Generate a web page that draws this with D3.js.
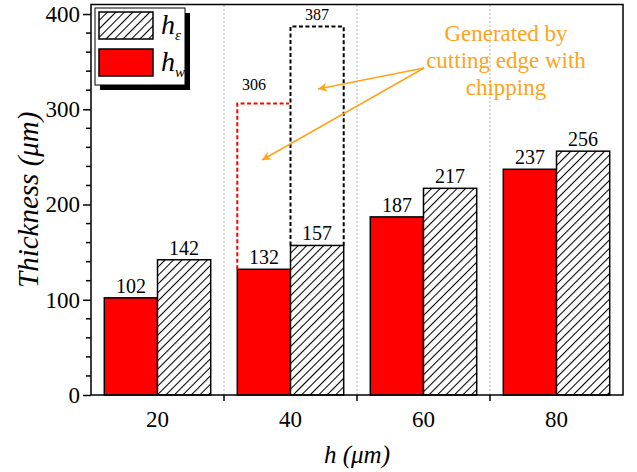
<!DOCTYPE html>
<html><head><meta charset="utf-8">
<script src="https://cdn.jsdelivr.net/npm/d3@7/dist/d3.min.js"></script>
</head><body style="margin:0;background:#fff">
<svg id="c" width="637" height="472" style="display:block;font-family:'Liberation Serif'" font-family="Liberation Serif"></svg>
<script>
const categories = ["20", "40", "60", "80"];
const hw = [102, 132, 187, 237];
const he = [142, 157, 217, 256];
const chipCategory = "40";
const hwChip = 306;
const heChip = 387;
const yTicks = [0, 100, 200, 300, 400];
const yMinor = d3.range(0, 401, 20);
const annotationLines = ["Generated by", "cutting edge with", "chipping"];

const W = 637, H = 472;
const m = {l: 91, r: 14, t: 4.5, b: 77};
const svg = d3.select("#c");
const orange = "#FFA31A";
const FF = '"Liberation Serif"';
function T(sel) { return sel.append("text").style("font-family", FF); }

const x = d3.scaleBand().domain(categories).range([m.l, W - m.r]).paddingInner(0).paddingOuter(0);
const y = d3.scaleLinear().domain([0, 410]).range([H - m.b, m.t]);
const bw = x.bandwidth() * 0.4;
const cx = c => x(c) + x.bandwidth() / 2;

const defs = svg.append("defs");
const pat = defs.append("pattern").attr("id", "hatch").attr("patternUnits", "userSpaceOnUse")
  .attr("width", 6).attr("height", 6).attr("patternTransform", "rotate(45)");
pat.append("rect").attr("width", 6).attr("height", 6).attr("fill", "#fff");
pat.append("line").attr("x1", 0.5).attr("y1", 0).attr("x2", 0.5).attr("y2", 6)
  .attr("stroke", "#000").attr("stroke-width", 1.1);
defs.append("marker").attr("id", "arr").attr("viewBox", "0 0 10 10").attr("refX", 10).attr("refY", 5)
  .attr("markerWidth", 13).attr("markerHeight", 9).attr("markerUnits", "userSpaceOnUse").attr("orient", "auto")
  .append("path").attr("d", "M0,0 L10,5 L0,10 L3,5 Z").attr("fill", orange);

// grid lines at band separators
const seps = categories.slice(1).map(c => x(c));
svg.append("g").selectAll("line").data(seps).join("line")
  .attr("x1", d => d).attr("x2", d => d).attr("y1", y(0)).attr("y2", m.t)
  .attr("stroke", "#b0b0b0").attr("stroke-width", 1).attr("stroke-dasharray", "2,2");

// bars
svg.append("g").selectAll("rect").data(categories).join("rect")
  .attr("x", c => cx(c) - bw).attr("width", bw)
  .attr("y", (c, i) => y(hw[i])).attr("height", (c, i) => y(0) - y(hw[i]))
  .attr("fill", "#ff0000").attr("stroke", "#000").attr("stroke-width", 1.5);
svg.append("g").selectAll("rect").data(categories).join("rect")
  .attr("x", c => cx(c)).attr("width", bw)
  .attr("y", (c, i) => y(he[i])).attr("height", (c, i) => y(0) - y(he[i]))
  .attr("fill", "url(#hatch)").attr("stroke", "#000").attr("stroke-width", 1.5);

// value labels
const lab = svg.append("g").attr("font-size", 20).attr("text-anchor", "middle");
categories.forEach((c, i) => {
  T(lab).attr("x", cx(c) - bw / 2).attr("y", y(hw[i]) - 5).text(hw[i]);
  T(lab).attr("x", cx(c) + bw / 2).attr("y", y(he[i]) - 5).text(he[i]);
});

// chipping dashed outlines
const ci = categories.indexOf(chipCategory);
const c0 = cx(chipCategory);
svg.append("path")
  .attr("d", `M${c0 - bw},${y(hw[ci])} L${c0 - bw},${y(hwChip)} L${c0 - 1.5},${y(hwChip)}`)
  .attr("fill", "none").attr("stroke", "#ff0000").attr("stroke-width", 2).attr("stroke-dasharray", "4,2.5");
svg.append("path")
  .attr("d", `M${c0},${y(he[ci])} L${c0},${y(heChip)} L${c0 + bw},${y(heChip)} L${c0 + bw},${y(he[ci])}`)
  .attr("fill", "none").attr("stroke", "#000").attr("stroke-width", 2).attr("stroke-dasharray", "4,2.5");
const lab2 = svg.append("g").attr("font-size", 16).attr("text-anchor", "middle");
T(lab2).attr("x", c0 - bw / 2 - 10).attr("y", y(hwChip) - 14).text(hwChip);
T(lab2).attr("x", c0 + bw / 2).attr("y", y(heChip) - 6).text(heChip);

// frame
svg.append("rect").attr("x", m.l).attr("y", m.t).attr("width", W - m.r - m.l).attr("height", y(0) - m.t)
  .attr("fill", "none").attr("stroke", "#000").attr("stroke-width", 1.5);

// y axis (d3 axis for ticks; labels drawn as text)
const ya = svg.append("g").attr("transform", `translate(${m.l},0)`)
  .call(d3.axisLeft(y).tickValues(yTicks).tickSize(8).tickFormat(""));
ya.attr("font-family", null).attr("font-size", null);
ya.select(".domain").remove();
ya.selectAll("line").attr("stroke-width", 1.5);
const yl = svg.append("g").attr("font-size", 23).attr("text-anchor", "end");
yTicks.forEach(v => T(yl).attr("x", m.l - 11).attr("y", y(v)).attr("dy", "0.34em").text(v));
svg.append("g").selectAll("line").data(yMinor.filter(v => !yTicks.includes(v))).join("line")
  .attr("x1", m.l - 5).attr("x2", m.l).attr("y1", d => y(d)).attr("y2", d => y(d))
  .attr("stroke", "#000").attr("stroke-width", 1.5);

// x axis
svg.append("g").selectAll("line").data(seps).join("line")
  .attr("x1", d => d).attr("x2", d => d).attr("y1", y(0)).attr("y2", y(0) + 6)
  .attr("stroke", "#000").attr("stroke-width", 1.5);
const xl = svg.append("g").attr("font-size", 23).attr("text-anchor", "middle");
categories.forEach(c => T(xl).attr("x", cx(c)).attr("y", y(0) + 32).text(c));

// axis titles
T(svg).attr("transform", `translate(38,${(y(0) + m.t) / 2}) rotate(-90)`)
  .attr("text-anchor", "middle").attr("font-size", 29).attr("font-style", "italic")
  .text("Thickness (μm)");
T(svg).attr("x", (m.l + W - m.r) / 2).attr("y", 463).attr("text-anchor", "middle")
  .attr("font-size", 25).attr("font-style", "italic").text("h (μm)");

// legend
const lg = svg.append("g");
lg.append("rect").attr("x", 100).attr("y", 13).attr("width", 90).attr("height", 77).attr("fill", "#000");
lg.append("rect").attr("x", 95).attr("y", 8).attr("width", 90).attr("height", 77)
  .attr("fill", "#fff").attr("stroke", "#000").attr("stroke-width", 1);
lg.append("rect").attr("x", 99).attr("y", 12).attr("width", 54).attr("height", 27)
  .attr("fill", "url(#hatch)").attr("stroke", "#000").attr("stroke-width", 1.5);
lg.append("rect").attr("x", 99).attr("y", 49).attr("width", 54).attr("height", 27)
  .attr("fill", "#ff0000").attr("stroke", "#000").attr("stroke-width", 1.5);
const l1 = T(lg).attr("x", 161).attr("y", 34).attr("font-style", "italic").attr("font-size", 28);
l1.append("tspan").text("h");
l1.append("tspan").attr("font-size", 15).attr("dy", 6).text("ε");
const l2 = T(lg).attr("x", 161).attr("y", 71).attr("font-style", "italic").attr("font-size", 28);
l2.append("tspan").text("h");
l2.append("tspan").attr("font-size", 15).attr("dy", 6).text("w");

// annotation
const ann = T(svg).attr("text-anchor", "middle").attr("font-size", 23).attr("fill", orange);
annotationLines.forEach((t, i) => ann.append("tspan").attr("x", 506).attr("y", 41 + i * 27).text(t));
const ax0 = 424, ay0 = 68;
svg.append("line").attr("x1", ax0).attr("y1", ay0).attr("x2", 318).attr("y2", 89)
  .attr("stroke", orange).attr("stroke-width", 1.5).attr("marker-end", "url(#arr)");
svg.append("line").attr("x1", ax0).attr("y1", ay0).attr("x2", 262).attr("y2", 160)
  .attr("stroke", orange).attr("stroke-width", 1.5).attr("marker-end", "url(#arr)");
</script>
</body></html>
